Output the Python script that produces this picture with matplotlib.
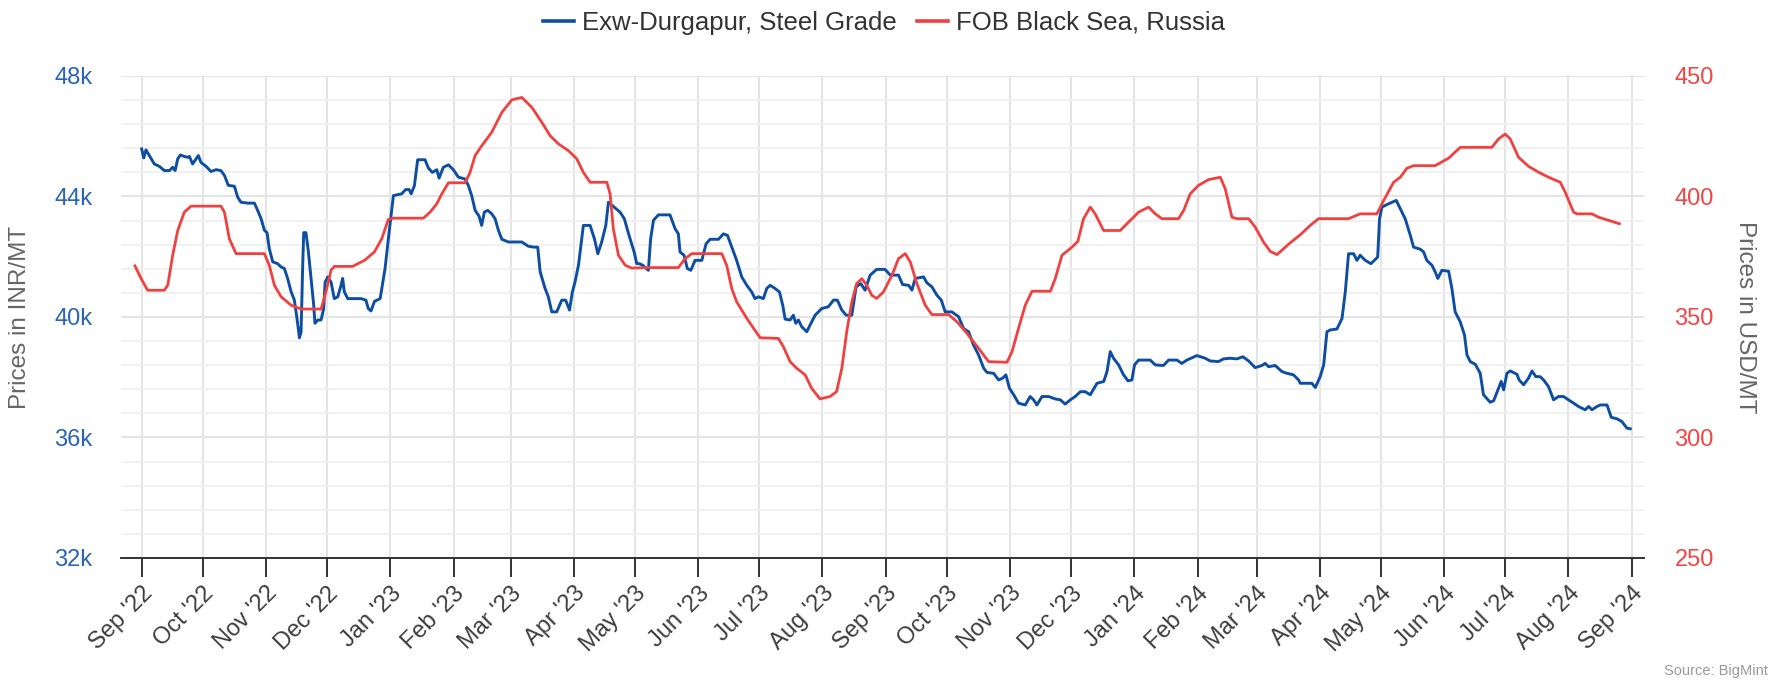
import matplotlib
matplotlib.use('Agg')
import matplotlib.pyplot as plt
import pandas as pd
import numpy as np
from matplotlib.lines import Line2D

plt.rcParams['font.family'] = ['Liberation Sans', 'DejaVu Sans']

# ---------------- data ----------------
start_date = '2022-09-01'

series_names = ['Exw-Durgapur, Steel Grade', 'FOB Black Sea, Russia']

# days after 1 Sep 2022, INR/MT
blue_day = [0, 1, 2.1, 3.3, 6.2, 8.7, 11.1, 13.6, 15.2, 16.4, 17.7, 19, 20.9, 22.6, 23.4, 25, 26.7, 27.8, 29.1,
            31.6, 34, 36.5, 38.9, 40.6, 42.5, 45.5, 47.1, 48.7, 52, 55.3, 56.9, 58.6, 60.2, 61.5, 62.6, 64.3,
            66.7, 68.4, 70, 71.6, 73.3, 74.9, 76.2, 77.4, 78.2, 79, 79.5, 80.6, 81.8, 83.1, 84.4, 85, 86.4, 88,
            89.3, 90, 91.3, 92.9, 94.5, 96.2, 97.8, 98.6, 99.4, 101.1, 107.6, 110, 111.2, 112.5, 114.2,
            117, 119.4, 121.4, 123.5, 127.6, 129.5, 131.2, 132.2, 133.8, 135.4, 139, 140.7, 142.6, 144.8, 145.9,
            148, 150.5, 152.9, 155.4, 158.7, 160.3, 161.9, 163.6, 165.5, 166.8, 168.1, 169.8, 171.7, 173.4, 175,
            176.7, 179.9, 183.2, 186.5, 189.7, 192.2, 194.3, 195.5, 197.9, 199.5, 201.2, 203.6, 206.1, 208, 209.9,
            211.3, 212.6, 214.3, 216.7, 220, 222.1, 223.8, 225.7, 227.7, 229, 230.9, 234.7, 236.8, 239.1,
            241.6, 242.9, 244.2, 245.8, 248.6, 249.7, 251.1, 253.5, 259.2, 261.7, 263.3, 264.1, 266.1, 267.7,
            269.4, 271.5, 274.8, 276.9, 278.9, 283, 285.4, 287.4, 289.5, 291.9, 294.4, 296.9, 299.3, 300.9,
            302.6, 305, 306.7, 308.3, 310.7, 312.9, 314.5, 315.7, 318.1, 319.7, 320.9, 322.2, 323.8, 326.3,
            327.9, 330.4, 333.6, 336.9, 339.4, 341.3, 343.5, 345.6, 348.4, 350.5, 352.8, 354.9, 357.4, 360.6,
            364.7, 367.3, 371.3, 373.3, 376.3, 377.9, 379.5, 383.6, 385.2, 387.7, 390.2, 392.3, 394.2, 397.5,
            400.8, 403.2, 405.7, 408.1, 410.6, 413.1, 414.7, 418, 420.4, 422.4, 424, 425.7, 427.8, 430.2, 433.5,
            435.9, 437.6, 439.2, 441.7, 445, 448.2, 450.7, 453.1, 455.6, 458, 460.5, 462.9, 465.4, 468.7, 472,
            473.6, 475.2, 476.8, 479.3, 481.7, 483.9, 485.8, 487.1, 489.1, 494.8, 497.3, 501.3, 503.8, 507.9,
            510.3, 512.8, 517.7, 521.8, 524.2, 528.3, 530.8, 534.1, 537.3, 540.3, 543.1, 546.3, 549.6, 551.2,
            552.9, 556.1, 559.4, 561.9, 565.1, 567.6, 568.4, 571.7, 574.1, 575.8, 578.2, 579.9, 581.5, 583.1,
            586.4, 588.9, 590.5, 592.1, 594.6, 596.2, 597.8, 600.3, 603.1, 606.4, 607.3, 608.5, 611.8, 615.5,
            617.5, 619.9, 622.4, 624, 627.3, 628.9, 630.5, 633, 634.6, 635.9, 637.9, 641.2, 642.8, 644.4, 646.9,
            649, 650.2, 651.8, 654.3, 656.7, 658.3, 661.6, 663.3, 665.7, 667, 668.2, 669.8, 671.4, 674.7, 675.8,
            678, 680.4, 682.1, 684, 686.1, 687.8, 690.2, 692.7, 695.1, 697.6, 700, 702.5, 704.9, 708.2, 709.9,
            711.5, 714, 715.6, 718.9, 721, 723.8, 726.2, 728.7, 730.3]
blue_inr = [45580, 45280, 45550, 45410, 45080, 45000, 44860, 44860, 44970, 44860, 45250, 45380, 45330, 45300,
            45330, 45080, 45250, 45360, 45130, 45000, 44830, 44890, 44860, 44700, 44370, 44340, 43980, 43810,
            43780, 43780, 43540, 43260, 42880, 42800, 42270, 41830, 41770, 41660, 41610, 41280, 40840, 40560,
            39950, 39310, 39510, 41720, 42800, 42800, 42160, 41280, 40390, 39790, 39900, 39900, 40280, 41160,
            41330, 41160, 40610, 40670, 41050, 41280, 40840, 40610, 40610, 40560, 40280, 40200, 40520,
            40610, 41610, 42820, 44030, 44090, 44230, 44230, 44090, 44360, 45220, 45220, 44940, 44800, 44890,
            44610, 44970, 45050, 44890, 44640, 44580, 44360, 44030, 43540, 43350, 43040, 43480, 43540, 43430,
            43260, 42880, 42580, 42490, 42490, 42490, 42350, 42320, 42320, 41500, 40950, 40670, 40170, 40170,
            40560, 40560, 40230, 40830, 41160, 41720, 43040, 43040, 42600, 42100, 42490, 43040, 43810, 43700,
            43480, 43260, 42710,
            42160, 41770, 41770, 41720, 41550, 42600, 43210, 43390, 43390, 42930, 42760, 42160, 42050, 41610,
            41550, 41880, 41880, 42430, 42580, 42580, 42760, 42710, 42320, 41880, 41330, 41050, 40830, 40610,
            40670, 40610, 40950, 41050, 40950, 40830, 40390, 39930, 39900, 40060, 39790, 39900, 39680, 39510,
            39730, 40060, 40280, 40340, 40560, 40560, 40230, 40060, 40060, 41000, 41110, 40890, 41390, 41580,
            41580, 41390, 41390, 41080, 41050, 40890, 41280, 41330, 41140, 41000, 40720, 40560, 40170, 40170,
            40010, 39620, 39510, 39070, 38740, 38300, 38160, 38130, 37910, 37970, 38080, 37640, 37420, 37140,
            37080, 37360, 37250, 37080, 37360, 37360, 37280, 37250, 37110, 37250, 37360, 37520, 37520, 37420,
            37800, 37860, 38190, 38850, 38630, 38410, 38080, 37880, 37910, 38410, 38570, 38570, 38410, 38390,
            38570, 38570, 38460, 38570, 38720, 38630, 38540, 38520, 38610, 38630, 38610, 38680, 38540, 38320,
            38390, 38460, 38350, 38390, 38190, 38130, 38080, 37910, 37800, 37800, 37800, 37660, 38020, 38410,
            39510, 39570, 39600, 39950, 40830, 42100, 42100, 41880, 42050, 41880, 41770, 41990, 43260, 43650,
            43760, 43870, 43590, 43260, 42710, 42320, 42250, 42160, 41880, 41720, 41500, 41280, 41550, 41520,
            40950, 40170, 39840, 39400, 38740, 38520, 38430, 38130, 37420, 37170, 37220, 37640, 37860, 37580,
            38130, 38210, 38100, 37910, 37750, 37970, 38210, 38020, 38020, 37910, 37690, 37250, 37360, 37360,
            37250, 37140, 37030, 36920, 37030, 36920, 37030, 37080, 37080, 36670, 36620, 36530, 36310, 36290]

# days after 1 Sep 2022, USD/MT
red_day = [-3.3, -0.3, 2.9, 11.1, 12.8, 15.2, 17.7, 20.9, 24.2, 38.9, 40.6, 43, 46.3, 60.2, 62.6, 65.1, 68.4,
           73.3, 78.2, 88, 90.4, 92.9, 94.5, 103.5, 109.3, 114.2,
           117.8, 121, 123.5, 138.2, 141.5, 144.8, 147.2, 150.5, 158.7, 161.1, 163.6, 166.8, 171.7, 176.7,
           181.6, 186.5, 191.4, 196.3, 200.4, 204.5, 209.4, 213.5, 216.7, 220, 228.2, 229.8, 231.4, 233.9,
           237.2, 240.4,
           247.8, 263.3, 266.6, 269.9, 284.6, 287, 289.5, 291.9, 296.9, 303.4, 312.4, 314.8, 318.1, 321.4,
           325.5, 328.7, 332.8, 337.7, 340.9, 343.5, 345.9, 348.4, 350.8, 353.3, 355.7, 358.2, 360.6, 363.9,
           368.1, 371.3, 374.6, 377.1, 380.3, 384.4, 387.7, 395.9, 400, 404.9, 410.6, 415.5, 424.5, 427,
           430.2, 433.5, 436.8, 445.8, 448.2, 451.5, 456.4, 459.3, 462.1, 465.4, 467.8, 471.9, 480.1, 484.2,
           489.1,
           494, 497.3, 500.5, 508.7, 511.2, 514.4, 518.5, 523.4, 529.2, 531.6, 534.9, 537.3, 543.1, 546.3,
           550.4, 553.7, 557, 559.4, 563.5, 568.4, 573.3, 577.4, 592.1, 597.8, 606, 609.3, 614.2,
           617.5, 620.7, 624, 634.6, 641.2, 646.9, 662.4, 665.7, 669, 671.4, 675.5, 680.4, 685.3, 690.2, 696,
           698.4, 702.5, 704.1, 711.5, 714.8, 719.7, 725]
red_usd = [371.2, 366, 361.1, 361.1, 363.2, 375.6, 385.9, 393.5, 396, 396, 393.5, 382.5, 376.3, 376.3, 371.5,
           363.2, 358.4, 354.9, 353.3, 353.3, 360.4, 369.4, 371, 371, 373.5, 377,
           382.5, 390.5, 391, 391, 393.5, 397, 401, 405.7, 405.7, 410, 417, 421, 426.6, 434.9, 440.1, 441.1,
           437, 430.8, 425.2, 421.8, 419, 415.6, 410, 405.9, 405.9, 401.1, 386.6, 375.6, 371.5, 370.3,
           370.5, 370.5, 374.2, 376.3, 376.3, 371.5, 361.8, 356.3, 349.4, 341.4, 341.1, 337.7, 331.5, 328.7,
           326, 320.4, 316, 317, 319, 328.7, 343.9, 356.3, 363.9, 365.9, 363.2, 359, 357.7, 360.4,
           367.3, 374.2, 376.3, 372.8, 363.9, 354.9, 351, 351, 348, 343.2, 337, 331.5, 331.2, 335.6, 345.3,
           354.9, 360.7, 360.7, 365.9, 375.6, 379, 381.4, 390.8, 395.6, 392.8, 385.9, 385.9, 389.4, 393.5,
           395.6, 392.8, 390.8, 390.8, 394.2, 401.1, 404.6, 407, 408, 403.2, 391.4, 390.8, 390.8, 387.3,
           381.1, 377.2, 375.9, 377.7, 380.8, 384.1, 388, 390.8, 390.8, 392.8, 392.8, 398.3, 405.9,
           408, 411.7, 412.8, 412.8, 415.9, 420.4, 420.4, 423.9, 425.9, 423.9, 416.3, 412.5, 410.1, 408, 405.9,
           401.8, 393.5, 392.8, 392.8, 391.4, 390.1, 388.7]

left_ticks = [32000, 36000, 40000, 44000, 48000]
left_tick_labels = ['32k', '36k', '40k', '44k', '48k']
right_ticks = [250, 300, 350, 400, 450]
right_tick_labels = ['250', '300', '350', '400', '450']
month_ticks = pd.date_range('2022-09-01', '2024-09-01', freq='MS')
month_labels = [d.strftime("%b '%y") for d in month_ticks]

# ---------------- drawing ----------------
BLUE = '#0d4ea3'
RED = '#f04141'
start = pd.Timestamp(start_date)
bx = start + pd.to_timedelta(blue_day, unit='D')
rx = start + pd.to_timedelta(red_day, unit='D')

fig = plt.figure(figsize=(17.77, 6.81), dpi=100)
ax = fig.add_axes([0.06826, 0.18062, 0.85683, 0.70778])
ax.set_xlim(start - pd.Timedelta(days=10), start + pd.Timedelta(days=737))
ax.set_ylim(32000, 48000)
ax.set_yticks(left_ticks)
ax.set_yticklabels(left_tick_labels)
ax.set_yticks(np.arange(32000, 48001, 800), minor=True)
ax.set_xticks(month_ticks)
ax.set_xticklabels(month_labels, rotation=45, ha='right', va='top', rotation_mode='anchor')
ax.grid(which='major', axis='both', color='#e4e4e4', lw=1.5)
ax.grid(which='minor', axis='y', color='#f0f0f0', lw=1.3)
ax.set_axisbelow(True)
for s in ['top', 'left', 'right']:
    ax.spines[s].set_visible(False)
ax.spines['bottom'].set_color('#333333')
ax.spines['bottom'].set_linewidth(1.4)
ax.tick_params(axis='x', which='major', length=13.5, width=1.4, color='#333333', direction='out',
               pad=4, labelsize=17, labelcolor='#3d3d3d')
ax.tick_params(axis='y', which='both', length=0, pad=21, labelsize=17, labelcolor='#2a64b6')

ax.plot(bx, blue_inr, color=BLUE, lw=2.1, solid_joinstyle='round', zorder=3)

ax2 = ax.twinx()
ax2.set_ylim(250, 450)
ax2.set_yticks(right_ticks)
ax2.set_yticklabels(right_tick_labels)
for s in ['top', 'left', 'right', 'bottom']:
    ax2.spines[s].set_visible(False)
ax2.tick_params(axis='y', length=0, pad=22, labelsize=17, labelcolor='#f34545')
ax2.plot(rx, red_usd, color=RED, lw=2.0, solid_joinstyle='round', zorder=3)

fig.text(20 / 1777, 1 - 317 / 681, 'Prices in INR/MT', rotation=90, ha='center', va='center',
         fontsize=17.5, color='#666666')
fig.text(1745 / 1777, 1 - 317 / 681, 'Prices in USD/MT', rotation=270, ha='center', va='center',
         fontsize=17.5, color='#666666')
fig.text(1768 / 1777, 1 - 671 / 681, 'Source: BigMint', ha='right', va='center', fontsize=10.5,
         color='#999999')

handles = [Line2D([], [], color=BLUE, lw=2.6), Line2D([], [], color=RED, lw=2.6)]
fig.legend(handles, series_names, loc='center', bbox_to_anchor=(0.4975, 1 - 22.7 / 681), ncol=2,
           frameon=False, fontsize=18.5, handlelength=1.2, handletextpad=0.3, columnspacing=0.8,
           labelcolor='#333333')

fig.savefig('out.png', dpi=100)
